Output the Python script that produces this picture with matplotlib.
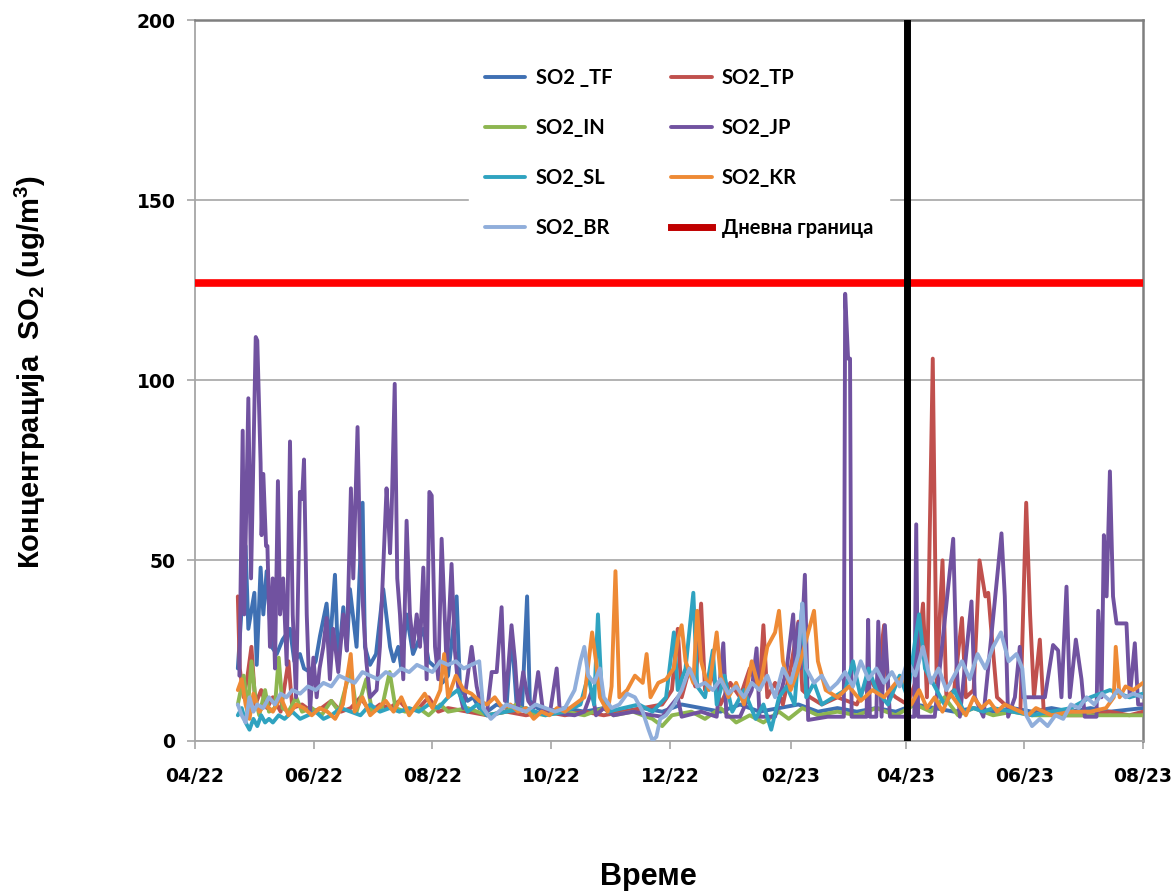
import numpy as np
import matplotlib
matplotlib.use("Agg")
import matplotlib.pyplot as plt
import matplotlib.dates as mdates
from matplotlib.lines import Line2D

# ---------------- data (days since 2022-04-01, concentration ug/m3) ----------------
START = "2022-04-01"

tf_days = [22, 26, 27.4, 30.5, 31.7, 33.7, 35.1, 36.8, 39.4, 42, 45, 48.8, 51, 53.9, 56, 59.1, 62, 64.2,
           67.6, 69.3, 71.9, 73.6, 76.2, 78, 79.6, 83, 86.1, 87.3, 89.9, 93, 96.7, 100.2, 102, 104.4,
           106, 108.7, 112, 117.3, 120, 124.1, 127, 130, 134.4, 136.1, 140, 142.9, 146, 150, 155, 160,
           162.6, 165.2, 168, 170.6, 172, 176, 180, 190, 200, 210, 220, 230, 240, 250, 260, 270, 280,
           290, 300, 310, 320, 330, 340, 350, 360, 370, 380, 390, 400, 410, 420, 430, 440, 450, 460,
           470, 487]
tf_vals = [20, 54, 31, 41, 21, 48, 35, 47, 26, 24, 28, 31, 22, 24, 20, 19, 22, 29,
           38, 26, 46, 21, 37, 25, 42, 26, 66, 26, 21, 24, 42, 26, 22, 26,
           20, 35, 24, 31, 22, 20, 16, 18, 40, 15, 11, 12, 9, 8, 10, 9,
           30, 10, 9, 40, 11, 9, 8, 9, 8, 9, 8, 9, 8, 10, 9, 8, 10,
           8, 9, 10, 8, 9, 8, 9, 8, 10, 9, 8, 9, 8, 9, 8, 9, 8, 9,
           8, 9]

tp_days = [22, 23, 25, 27, 29, 31, 34, 37, 40, 44, 48, 50, 55, 60, 65, 70, 75, 80, 85, 90, 95, 100,
           105, 110, 115, 120, 125, 130, 140, 150, 160, 170, 180, 190, 200, 210, 220, 230, 240, 245,
           248, 250, 254, 257, 260, 262, 266, 270, 275, 280, 285, 290, 292, 294, 298, 302, 306, 310,
           312, 316, 322, 330, 340, 346, 350, 354, 356, 360, 366, 370, 374, 376, 379, 381, 384, 386,
           390, 394, 396, 400, 403, 406, 407.5, 409, 412, 416, 420, 424, 427, 429, 431, 434, 436, 445,
           460, 470, 480, 487]
tp_vals = [40, 20, 12, 18, 26, 10, 14, 9, 12, 8, 22, 9, 10, 8, 9, 11, 8, 9, 12, 8, 10, 9,
           11, 8, 9, 12, 8, 9, 8, 7, 8, 7, 8, 7, 8, 7, 8, 9, 10, 14,
           31, 12, 20, 15, 38, 14, 18, 10, 16, 12, 20, 14, 32, 12, 16, 10, 20, 33,
           14, 12, 10, 12, 10, 18, 14, 32, 14, 12, 10, 16, 38, 12, 106, 16, 50, 12,
           14, 34, 12, 14, 50, 40, 41, 31, 12, 10, 9, 8, 66, 35, 12, 28, 8, 7,
           7, 8, 7, 8]

in_days = [22, 25, 27, 29, 31, 33, 36, 38, 41, 43, 45, 48, 52, 55, 60, 65, 70, 74, 80, 83, 88, 91, 96,
           100, 103, 108, 115, 120, 126, 130, 140, 150, 160, 165, 170, 180, 190, 200, 210, 215, 225,
           235, 240, 245, 255, 262, 270, 278, 285, 292, 300, 305, 312, 320, 330, 340, 350, 360, 370,
           378, 385, 392, 400, 410, 420, 430, 440, 487]
in_vals = [10, 18, 8, 22, 12, 7, 14, 8, 9, 23, 9, 8, 12, 8, 9, 7, 11, 8, 20, 8, 17, 8, 9,
           19, 9, 8, 9, 7, 10, 8, 9, 7, 8, 10, 8, 7, 8, 7, 9, 7, 8,
           6, 4, 7, 8, 6, 9, 5, 7, 5, 8, 6, 9, 7, 8, 7, 9, 7, 10,
           8, 12, 7, 9, 7, 8, 7, 7, 7]

jp_days = [22.8, 24.5, 25.3, 27.4, 28.8, 31.2, 32, 33.7, 34.2, 35.1, 36.5, 37.2, 38.5, 39.9, 41.1, 42.6,
           43.7, 45.3, 47.1, 48.8, 50.2, 51.9, 53.9, 55, 56, 57.4, 59.1, 60.8, 62.5, 64, 65.9, 67.6,
           69.3, 71, 73.6, 76.2, 78, 80.1, 81.3, 83.5, 84.7, 86.5, 88, 89.9, 93.3, 95, 98.4, 99.5,
           100.2, 101, 102.6, 103.9, 105.3, 107, 108.7, 110.4, 112.1, 113.9, 115.6, 117.3, 119,
           120.4, 121.6, 123.3, 125, 126.7, 129.3, 131.8, 133.5, 135.2, 137.8, 142.1, 144.7, 147.2,
           149.8, 152.4, 155, 157.5, 159.2, 160.9, 162.6, 164.4, 166, 168.6, 171.2, 173.8, 176.3,
           178.9, 182.3, 185.8, 187.5, 195, 200, 204, 206, 210, 215, 225, 235, 240, 248, 250, 260,
           268, 271.4, 273, 280, 286, 288.5, 290, 298, 304, 307.3, 308.5, 309.9, 311, 313.3, 315, 325,
           333.3, 334, 335.5, 336.5, 337.3, 345, 345.8, 346.7, 350, 351, 352.7, 354.4, 357, 369.5,
           370.5, 371.5, 380, 389.5, 391.2, 392.9, 398.9, 400.6, 405, 411.8, 414.3, 416, 417.7,
           421.2, 423.7, 425.4, 436.6, 440.8, 443.4, 445.1, 447.7, 449.4, 452.5, 455.4, 457.1,
           463.1, 464, 465.7, 466.9, 468.3, 470, 471.6, 473.4, 478.5, 480.2, 482.8, 484.5, 487]
jp_vals = [18, 86, 35, 95, 45, 112, 111, 77, 57, 74, 54, 54, 26, 45, 20, 72,
           35, 45, 21, 83, 35, 12, 69, 67, 78, 35, 8, 23, 12, 20, 26, 34,
           17, 31, 19, 35, 25, 70, 45, 87, 54, 35, 22, 12, 14, 26, 70, 60,
           52, 63, 99, 45, 35, 17, 61, 35, 26, 35, 26, 48, 17,
           69, 68, 26, 17, 56, 20, 49, 25, 15, 9, 26, 15, 9,
           7, 19, 19, 37, 11, 20, 32, 22, 9, 19, 11, 9, 19,
           7.5, 7.5, 20, 7.5, 7, 8, 14, 7, 9, 7, 8, 7, 6.6, 12, 6.6, 8,
           6.6, 27, 6.6, 6.6, 14, 25.6, 6.6, 6.6, 20, 35, 18, 32.5, 20, 46, 5.7, 6.6,
           6.6, 124, 106, 106, 6.6, 6.6, 33.5, 6.6, 6.6, 33, 6.6, 32, 6.6, 6.6,
           60, 6.6, 6.6, 56, 21, 6.6, 38.6, 12, 6.6, 43.7, 57.5, 40, 6.6,
           12, 26, 12, 12, 26.5, 25, 12, 42.7, 12, 28, 17, 6.6,
           6.6, 36, 12, 57, 40, 74.7, 40, 32.5, 32.5, 12, 27, 10, 10]

sl_days = [22, 24, 26, 28, 30, 32, 34, 36, 38, 40, 43, 46, 50, 54, 58, 62, 66, 70, 75, 80, 85, 90, 95,
           100, 105, 110, 115, 120, 125, 130, 135, 140, 145, 150, 160, 170, 180, 190, 198, 202, 205,
           207, 209, 212, 220, 228, 235, 242, 246, 248, 252, 256, 258, 262, 266, 268, 272, 276, 282,
           288, 292, 296, 300, 304, 308, 312, 314, 318, 322, 328, 334, 338, 342, 346, 350, 356, 362,
           366, 370, 372, 375, 380, 385, 390, 395, 400, 405, 410, 420, 430, 440, 450, 460, 470, 480,
           487]
sl_vals = [7, 9, 5, 3, 6, 4, 7, 5, 6, 5, 7, 6, 8, 6, 7, 8, 6, 7, 9, 8, 7, 10, 8,
           9, 8, 9, 8, 10, 9, 12, 14, 8, 10, 7, 8, 9, 7, 8, 10, 18, 10,
           35, 12, 8, 9, 10, 8, 12, 30, 14, 20, 41, 15, 12, 25, 10, 18, 8, 14,
           6, 10, 3, 12, 15, 10, 38, 12, 16, 10, 12, 14, 22, 12, 20, 14, 10, 18,
           12, 28, 35, 20, 15, 10, 14, 8, 9, 8, 9, 8, 7, 8, 9, 12, 14, 12,
           13]

kr_days = [22, 24, 26, 28, 30, 33, 36, 40, 44, 48, 52, 56, 60, 64, 68, 72, 76, 80, 82, 86, 90, 94, 98,
           102, 106, 110, 114, 118, 122, 126, 128, 130, 134, 138, 142, 146, 150, 154, 158, 162, 166,
           170, 174, 178, 182, 186, 190, 195, 200, 204, 206, 208, 212, 214, 216, 218, 222, 226, 230,
           232, 234, 238, 242, 246, 248, 250, 252, 256, 258, 260, 264, 268, 270, 274, 278, 282, 286,
           290, 294, 298, 300, 302, 306, 310, 314, 318, 320, 324, 330, 336, 342, 348, 354, 360, 364,
           368, 372, 376, 380, 384, 388, 392, 396, 400, 404, 408, 412, 416, 420, 424, 428, 432, 436,
           440, 450, 460, 468, 472, 473, 475, 478, 482, 487]
kr_vals = [14, 17, 10, 6, 13, 8, 10, 8, 12, 7, 10, 9, 7, 9, 8, 6, 10, 24, 8, 12, 7, 9, 11,
           8, 12, 7, 10, 13, 9, 14, 24, 12, 18, 14, 13, 11, 10, 12, 9, 10, 8,
           9, 6, 8, 7, 9, 8, 10, 12, 30, 22, 12, 8, 15, 47, 12, 14, 18, 16,
           24, 12, 16, 17, 20, 28, 32, 22, 16, 36, 22, 14, 30, 18, 12, 16, 10, 22,
           14, 26, 30, 36, 22, 14, 20, 28, 36, 22, 14, 12, 15, 11, 14, 12, 16, 18,
           10, 14, 9, 12, 8, 13, 10, 7, 12, 9, 11, 8, 10, 9, 8, 7, 9, 8,
           7, 8, 8, 9, 12, 26, 12, 15, 14, 16]

br_days = [22, 24, 26, 28, 30, 32, 35, 38, 41, 44, 47, 50, 54, 58, 62, 66, 70, 74, 78, 82, 86, 90, 94,
           98, 102, 106, 110, 114, 118, 122, 126, 130, 134, 138, 142, 146, 148, 152, 156, 160, 165,
           170, 175, 180, 185, 190, 195, 198, 200, 202, 205, 208, 210, 214, 218, 222, 226, 230, 233,
           235, 237, 239, 242, 246, 250, 254, 258, 262, 266, 270, 274, 278, 282, 286, 290, 294, 298,
           302, 306, 310, 312, 314, 318, 322, 326, 330, 334, 338, 342, 346, 350, 354, 358, 362, 366,
           370, 374, 378, 382, 386, 390, 394, 398, 402, 406, 410, 414, 418, 422, 425, 427, 430, 434,
           438, 442, 446, 450, 454, 458, 462, 466, 470, 474, 478, 482, 487]
br_vals = [10, 7, 5, 12, 8, 10, 9, 12, 10, 13, 12, 14, 13, 15, 14, 16, 15, 18, 17, 16, 19, 18, 17,
           19, 18, 20, 19, 21, 20, 19, 22, 21, 22, 20, 21, 22, 9, 6, 8, 10, 9,
           8, 10, 9, 8, 9, 14, 22, 26, 18, 16, 20, 12, 9, 10, 13, 12, 8, 3,
           0, 1, 6, 7, 10, 14, 20, 15, 16, 14, 17, 13, 15, 12, 16, 14, 18, 12,
           20, 16, 24, 38, 20, 16, 18, 14, 16, 19, 15, 22, 17, 20, 16, 19, 15, 22,
           18, 26, 16, 20, 14, 18, 22, 17, 24, 20, 26, 30, 22, 24, 20, 7, 4, 6,
           4, 7, 6, 10, 9, 12, 10, 13, 11, 14, 12, 13, 12]

series_names = ["SO2 _TF", "SO2_TP", "SO2_IN", "SO2_JP", "SO2_SL", "SO2_KR", "SO2_BR"]
series_days = [tf_days, tp_days, in_days, jp_days, sl_days, kr_days, br_days]
series_vals = [tf_vals, tp_vals, in_vals, jp_vals, sl_vals, kr_vals, br_vals]
series_colors = ["#3F70B3", "#C0504D", "#8DB650", "#7152A0", "#2FA3C0", "#EE8A35", "#90AEDB"]

daily_limit = 127
limit_label = "Дневна граница"
event_date = "2023-04-02"
tick_dates = ["2022-04-01", "2022-06-01", "2022-08-01", "2022-10-01", "2022-12-01",
              "2023-02-01", "2023-04-01", "2023-06-01", "2023-08-01"]

# ---------------- figure ----------------
plt.rcParams["font.family"] = ["DejaVu Sans"]
plt.rcParams["mathtext.fontset"] = "custom"
plt.rcParams["mathtext.rm"] = "Liberation Sans:bold"
plt.rcParams["mathtext.it"] = "Liberation Sans:bold"
plt.rcParams["mathtext.bf"] = "Liberation Sans:bold"

fig = plt.figure(figsize=(11.75, 8.91), dpi=100)
ax = fig.add_axes([195/1175, 1 - 740.5/891, (1143-195)/1175, (740.5-20)/891])

t0 = mdates.date2num(np.datetime64(START))
handles = {}
for name, d, v, c in zip(series_names, series_days, series_vals, series_colors):
    (ln,) = ax.plot(t0 + np.asarray(d, dtype=float), v, color=c, lw=2.8,
                    solid_joinstyle="round", solid_capstyle="round", zorder=3)
    handles[name] = ln

ax.axhline(daily_limit, color="#FF0000", lw=5.5, zorder=4)
ax.axvline(mdates.date2num(np.datetime64(event_date)), color="black", lw=5, zorder=5)

ax.set_xlim(mdates.date2num(np.datetime64(tick_dates[0])), mdates.date2num(np.datetime64(tick_dates[-1])))
ax.set_ylim(0, 200)
ax.set_yticks([0, 50, 100, 150, 200])
ax.set_xticks([mdates.date2num(np.datetime64(t)) for t in tick_dates])
ax.xaxis.set_major_formatter(mdates.DateFormatter("%m/%y"))
ax.grid(axis="y", color="#A6A6A6", lw=1.2, zorder=1)
ax.set_axisbelow(True)

for s in ["left", "bottom"]:
    ax.spines[s].set_color("#A6A6A6")
    ax.spines[s].set_linewidth(1.3)
for s in ["top", "right"]:
    ax.spines[s].set_color("#7F7F7F")
    ax.spines[s].set_linewidth(1.8)

ax.tick_params(axis="y", direction="out", length=6, width=1.2, color="#A6A6A6", pad=8, labelsize=13.5)
ax.tick_params(axis="x", direction="out", length=6, width=1.2, color="#A6A6A6", pad=13, labelsize=13.5)
for lab in ax.get_xticklabels() + ax.get_yticklabels():
    lab.set_fontweight("bold")

limit_handle = Line2D([], [], color="#C00000", lw=5)
leg_handles = [handles["SO2 _TF"], handles["SO2_IN"], handles["SO2_SL"], handles["SO2_BR"],
               handles["SO2_TP"], handles["SO2_JP"], handles["SO2_KR"], limit_handle]
leg_labels = ["SO2 _TF", "SO2_IN", "SO2_SL", "SO2_BR", "SO2_TP", "SO2_JP", "SO2_KR", limit_label]
leg = ax.legend(leg_handles, leg_labels, ncol=2, loc="upper left", bbox_to_anchor=(0.2785, 0.970),
                frameon=True, fancybox=False, framealpha=1, edgecolor="white",
                prop={"family": ["Lato", "DejaVu Sans"], "weight": "bold", "size": 14.5},
                handlelength=2.0, handletextpad=0.5, labelspacing=1.5, columnspacing=2.95,
                borderpad=0.8)
leg.set_zorder(6)

fig.text(30/1175, 1 - 372/891, "Концентрација  SO$_2$ (ug/m$^3$)", rotation=90, ha="center", va="center",
         fontsize=21, fontweight="bold", family=["Liberation Sans", "DejaVu Sans"])
fig.text(648/1175, 1 - 877/891, "Време", ha="center", va="center",
         fontsize=22, fontweight="bold", family=["Liberation Sans", "DejaVu Sans"])

fig.savefig("out.png", dpi=100, facecolor="white")
